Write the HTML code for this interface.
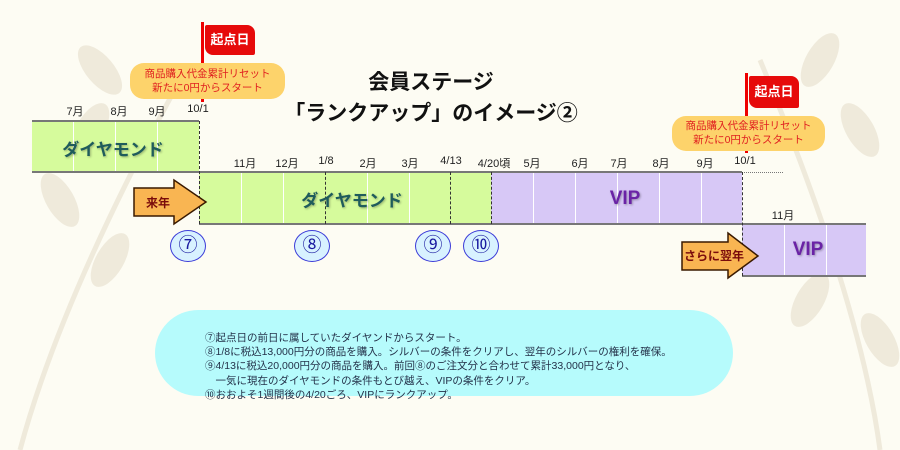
<!DOCTYPE html>
<html><head><meta charset="utf-8"><style>
body{margin:0;width:900px;height:450px;overflow:hidden;background:#fdfcf3;font-family:"Liberation Sans","Noto Sans CJK JP",sans-serif;position:relative}
.a{position:absolute}
.m{position:absolute;font-size:11px;color:#222;transform:translateX(-50%);white-space:nowrap}
.g{background:#d6fb9c}.p{background:#d7c8f6}
.v{position:absolute;width:1px;background:#fff}
.d{position:absolute;border-left:1px dashed #333}
.big{position:absolute;font-weight:bold;transform:translate(-50%,-50%);white-space:nowrap;text-shadow:1px 1px 2px rgba(0,0,0,.3)}
.bub{position:absolute;width:34px;height:30px;border-radius:50%;background:#d8f2ff;border:1.5px solid #3b3bd8;color:#1a1aa0;font-size:19px;text-align:center;line-height:30px;transform:translate(-50%,-50%)}
.note{position:absolute;background:#fdd36b;border-radius:14px;color:#e02020;font-size:10.5px;text-align:center;line-height:14px}
</style></head><body>
<svg class="a" style="left:0;top:0" width="900" height="450">
<g fill="#efeadb">
<ellipse cx="90" cy="130" rx="14" ry="30" transform="rotate(30 90 130)"/>
<ellipse cx="60" cy="200" rx="14" ry="30" transform="rotate(-30 60 200)"/>
<ellipse cx="110" cy="260" rx="14" ry="30" transform="rotate(30 110 260)"/>
<ellipse cx="100" cy="70" rx="14" ry="30" transform="rotate(-40 100 70)"/>
<ellipse cx="820" cy="60" rx="14" ry="30" transform="rotate(30 820 60)"/>
<ellipse cx="860" cy="130" rx="14" ry="30" transform="rotate(-30 860 130)"/>
<ellipse cx="810" cy="300" rx="14" ry="30" transform="rotate(30 810 300)"/>
<ellipse cx="880" cy="340" rx="14" ry="30" transform="rotate(-30 880 340)"/>
</g>
<path d="M20 450 Q60 300 180 80" stroke="#efeadb" stroke-width="5" fill="none"/>
<path d="M880 450 Q860 300 760 60" stroke="#efeadb" stroke-width="5" fill="none"/>
</svg>

<div class="a g" style="left:32px;top:121px;width:167px;height:51px"></div>
<div class="a g" style="left:199px;top:172px;width:292px;height:52px"></div>
<div class="a p" style="left:491px;top:172px;width:251px;height:52px"></div>
<div class="a p" style="left:742px;top:224px;width:124px;height:52px"></div>
<div class="v" style="left:73px;top:121px;height:51px"></div>
<div class="v" style="left:115px;top:121px;height:51px"></div>
<div class="v" style="left:157px;top:121px;height:51px"></div>
<div class="v" style="left:241px;top:172px;height:52px"></div>
<div class="v" style="left:283px;top:172px;height:52px"></div>
<div class="v" style="left:367px;top:172px;height:52px"></div>
<div class="v" style="left:409px;top:172px;height:52px"></div>
<div class="v" style="left:533px;top:172px;height:52px"></div>
<div class="v" style="left:575px;top:172px;height:52px"></div>
<div class="v" style="left:617px;top:172px;height:52px"></div>
<div class="v" style="left:659px;top:172px;height:52px"></div>
<div class="v" style="left:701px;top:172px;height:52px"></div>
<div class="v" style="left:784px;top:224px;height:52px"></div>
<div class="v" style="left:826px;top:224px;height:52px"></div>
<div class="a" style="left:32px;top:120px;width:167px;height:2px;background:#777"></div>
<div class="a" style="left:32px;top:171px;width:710px;height:2px;background:#777"></div>
<div class="a" style="left:199px;top:223px;width:667px;height:2px;background:#777"></div>
<div class="a" style="left:742px;top:275px;width:124px;height:2px;background:#777"></div>
<div class="a" style="left:742px;top:172px;width:41px;border-top:1px dotted #777"></div>
<div class="d" style="left:199px;top:121px;height:103px"></div>
<div class="d" style="left:325px;top:172px;height:52px"></div>
<div class="d" style="left:450px;top:172px;height:52px"></div>
<div class="d" style="left:491px;top:172px;height:52px"></div>
<div class="d" style="left:742px;top:172px;height:104px"></div>

<div class="m" style="left:75px;top:103px">7月</div>
<div class="m" style="left:119px;top:103px">8月</div>
<div class="m" style="left:157px;top:103px">9月</div>
<div class="m" style="left:198px;top:103px">10/1</div>
<div class="m" style="left:245px;top:155px">11月</div>
<div class="m" style="left:287px;top:155px">12月</div>
<div class="m" style="left:326px;top:155px">1/8</div>
<div class="m" style="left:368px;top:155px">2月</div>
<div class="m" style="left:410px;top:155px">3月</div>
<div class="m" style="left:451px;top:155px">4/13</div>
<div class="m" style="left:494px;top:155px">4/20頃</div>
<div class="m" style="left:532px;top:155px">5月</div>
<div class="m" style="left:580px;top:155px">6月</div>
<div class="m" style="left:619px;top:155px">7月</div>
<div class="m" style="left:661px;top:155px">8月</div>
<div class="m" style="left:705px;top:155px">9月</div>
<div class="m" style="left:745px;top:155px">10/1</div>
<div class="m" style="left:783px;top:207px">11月</div>

<div class="big" style="left:113px;top:148px;font-size:17px;color:#1f5c5c">ダイヤモンド</div>
<div class="big" style="left:352px;top:199px;font-size:17px;color:#1f5c5c">ダイヤモンド</div>
<div class="big" style="left:625px;top:199px;font-size:19px;color:#6a22a6">VIP</div>
<div class="big" style="left:808px;top:250px;font-size:19px;color:#6a22a6">VIP</div>

<div class="a" style="left:0;top:67px;width:862px;text-align:center;font-weight:bold;font-size:21px;line-height:31px;color:#111">会員ステージ<br>「ランクアップ」のイメージ②</div>

<!-- flags -->
<div class="a" style="left:201px;top:22px;width:3px;height:80px;background:#e00"></div>
<div class="a" style="left:205px;top:25px;width:50px;height:30px;background:#e60a0a;border-radius:2px 8px 2px 8px;color:#fff;font-weight:bold;font-size:13px;text-align:center;line-height:30px">起点日</div>
<div class="note" style="left:130px;top:63px;width:155px;height:36px;padding-top:4px;box-sizing:border-box">商品購入代金累計リセット<br>新たに0円からスタート</div>
<div class="a" style="left:745px;top:73px;width:3px;height:80px;background:#e00"></div>
<div class="a" style="left:749px;top:76px;width:50px;height:32px;background:#e60a0a;border-radius:2px 8px 2px 8px;color:#fff;font-weight:bold;font-size:13px;text-align:center;line-height:32px">起点日</div>
<div class="note" style="left:672px;top:116px;width:153px;height:35px;padding-top:3px;box-sizing:border-box">商品購入代金累計リセット<br>新たに0円からスタート</div>

<!-- arrows -->
<svg class="a" style="left:130px;top:178px" width="82" height="48"><path d="M4 10 H44 V2 L76 24 L44 46 V38 H4 Z" fill="#f9b552" stroke="#3a1a00" stroke-width="1.5"/><text x="28" y="29" font-size="12" font-weight="bold" fill="#7a0b0b" text-anchor="middle" font-family="Liberation Sans,Noto Sans CJK JP,sans-serif">来年</text></svg>
<svg class="a" style="left:678px;top:230px" width="84" height="50"><path d="M4 12 H50 V3 L80 26 L50 48 V40 H4 Z" fill="#f9b552" stroke="#3a1a00" stroke-width="1.5"/><text x="36" y="30" font-size="12" font-weight="bold" fill="#7a0b0b" text-anchor="middle" font-family="Liberation Sans,Noto Sans CJK JP,sans-serif">さらに翌年</text></svg>

<div class="bub" style="left:188px;top:246px">⑦</div>
<div class="bub" style="left:312px;top:246px">⑧</div>
<div class="bub" style="left:433px;top:246px">⑨</div>
<div class="bub" style="left:481px;top:246px">⑩</div>

<div class="a" style="left:155px;top:310px;width:578px;height:86px;background:#b6fbfc;border-radius:43px"></div>
<div class="a" style="left:205px;top:331px;font-size:10.5px;line-height:14.2px;color:#24324a;white-space:nowrap">⑦起点日の前日に属していたダイヤンドからスタート。<br>⑧1/8に税込13,000円分の商品を購入。シルバーの条件をクリアし、翌年のシルバーの権利を確保。<br>⑨4/13に税込20,000円分の商品を購入。前回⑧のご注文分と合わせて累計33,000円となり、<br>　一気に現在のダイヤモンドの条件もとび越え、VIPの条件をクリア。<br>⑩おおよそ1週間後の4/20ごろ、VIPにランクアップ。</div>
</body></html>
